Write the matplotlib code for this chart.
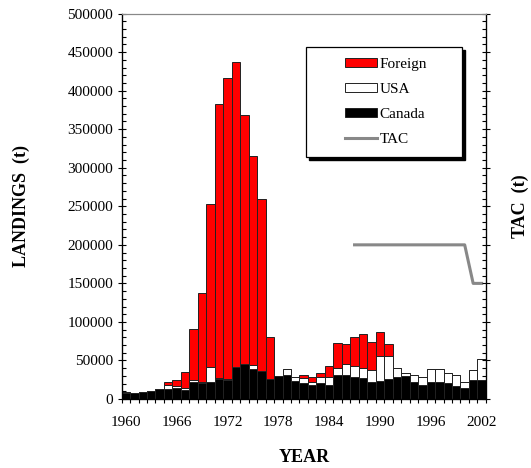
import matplotlib
matplotlib.use("Agg")
import matplotlib.pyplot as plt
from matplotlib.patches import Patch, Rectangle
from matplotlib.lines import Line2D
from matplotlib.ticker import MultipleLocator
import numpy as np

plt.rcParams['font.family'] = ['Liberation Serif', 'DejaVu Serif']

years = list(range(1960, 2003))

# landings by country (t)
canada = [7500, 7500, 9000, 10500, 13500, 12500, 14300, 12000, 21600, 21000,
          22500, 25500, 24600, 41000, 46000, 38400, 36300, 25500, 29800, 31100,
          24000, 20300, 17700, 20300, 18600, 31500, 31500, 28500, 26800, 22000,
          23300, 26400, 28500, 30200, 22000, 18600, 22000, 22000, 20300, 17300,
          13800, 24600, 24600]
usa = [2000, 0, 0, 0, 0, 6100, 3000, 2700, 3000, 1500,
       18500, 2100, 1000, 0, 0, 5600, 0, 0, 0, 7300,
       4500, 6500, 4800, 7800, 9900, 9100, 13900, 14700, 13800, 15600,
       32900, 29800, 11200, 3100, 9100, 9500, 17300, 17300, 13800, 13800,
       7800, 13000, 27700]
foreign = [0, 0, 0, 0, 0, 3000, 7700, 19900, 66100, 114500,
           211700, 355100, 391300, 396600, 323000, 271800, 222900, 55300, 0, 0,
           0, 4700, 6000, 5200, 13800, 32400, 25400, 37600, 43600, 36700,
           31100, 14600, 0, 0, 0, 0, 0, 0, 0, 0,
           0, 0, 0]

tac_years = list(range(1987, 2003))
tac = [200000] * 14 + [150000] * 2

year_labels = [1960, 1966, 1972, 1978, 1984, 1990, 1996, 2002]

fig = plt.figure(figsize=(5.31, 4.68), dpi=100)
ax = fig.add_axes([0.229, 0.1474, 0.686, 0.8236])

canada = np.array(canada)
usa = np.array(usa)
foreign = np.array(foreign)

ax.bar(years, canada, width=1.0, color='black', edgecolor='#222222', linewidth=0.7)
ax.bar(years, usa, width=1.0, bottom=canada, color='white', edgecolor='#222222', linewidth=0.7)
ax.bar(years, foreign, width=1.0, bottom=canada + usa, color='#ff0000', edgecolor='#222222', linewidth=0.7)
ax.plot(tac_years, tac, color='#888888', linewidth=2.2, zorder=5)

ax.set_xlim(1959.5, 2002.5)
ax.set_ylim(0, 500000)

ax.set_xticks(year_labels)
ax.set_xticklabels([str(y) for y in year_labels])
ax.xaxis.set_minor_locator(MultipleLocator(1, offset=0.5))
ax.tick_params(axis='x', which='major', length=0, pad=12, labelsize=11)
ax.tick_params(axis='x', which='minor', direction='out', length=3, width=0.8)

ax.yaxis.set_major_locator(MultipleLocator(50000))
ax.yaxis.set_minor_locator(MultipleLocator(10000))
ax.tick_params(axis='y', which='major', direction='inout', length=6, width=0.8, labelsize=11, pad=3)
ax.tick_params(axis='y', which='minor', direction='in', length=3, width=0.8)

ax2 = ax.twinx()
ax2.set_ylim(0, 500000)
ax2.yaxis.set_major_locator(MultipleLocator(50000))
ax2.yaxis.set_minor_locator(MultipleLocator(10000))
ax2.tick_params(axis='y', which='major', direction='inout', length=6, width=0.8, labelright=False)
ax2.tick_params(axis='y', which='minor', direction='in', length=3, width=0.8)
ax2.spines['top'].set_color('#888888')
ax2.spines['top'].set_linewidth(0.8)
ax.spines['top'].set_color('#888888')
ax.spines['top'].set_linewidth(0.8)
for s in ['left', 'bottom']:
    ax.spines[s].set_linewidth(0.9)
ax2.spines['right'].set_linewidth(0.9)

ax.text(-0.275, 0.5, 'LANDINGS  (t)', transform=ax.transAxes, rotation=90,
        ha='center', va='center', fontsize=13, fontweight='bold')
ax.text(1.095, 0.5, 'TAC  (t)', transform=ax.transAxes, rotation=90,
        ha='center', va='center', fontsize=13, fontweight='bold')
ax.text(0.5, -0.153, 'YEAR', transform=ax.transAxes,
        ha='center', va='center', fontsize=13, fontweight='bold')

# legend box with shadow
ax2.add_patch(Rectangle((0.514, 0.620), 0.428, 0.286, transform=ax.transAxes,
                        facecolor='black', edgecolor='black', zorder=8, clip_on=False))
ax2.add_patch(Rectangle((0.506, 0.628), 0.428, 0.286, transform=ax.transAxes,
                        facecolor='white', edgecolor='black', linewidth=0.9, zorder=9, clip_on=False))

handles = [Patch(facecolor='#ff0000', edgecolor='#222222', linewidth=0.7),
           Patch(facecolor='white', edgecolor='#222222', linewidth=0.7),
           Patch(facecolor='black', edgecolor='#222222', linewidth=0.7),
           Line2D([], [], color='#888888', linewidth=2.2)]
leg = ax2.legend(handles, ['Foreign', 'USA', 'Canada', 'TAC'], loc='upper left',
                 bbox_to_anchor=(0.585, 0.912), frameon=False, fontsize=11,
                 handlelength=2.1, handleheight=0.55, handletextpad=0.15,
                 labelspacing=0.78, borderpad=0.2)
leg.set_zorder(10)

fig.savefig('out.png', dpi=100)
